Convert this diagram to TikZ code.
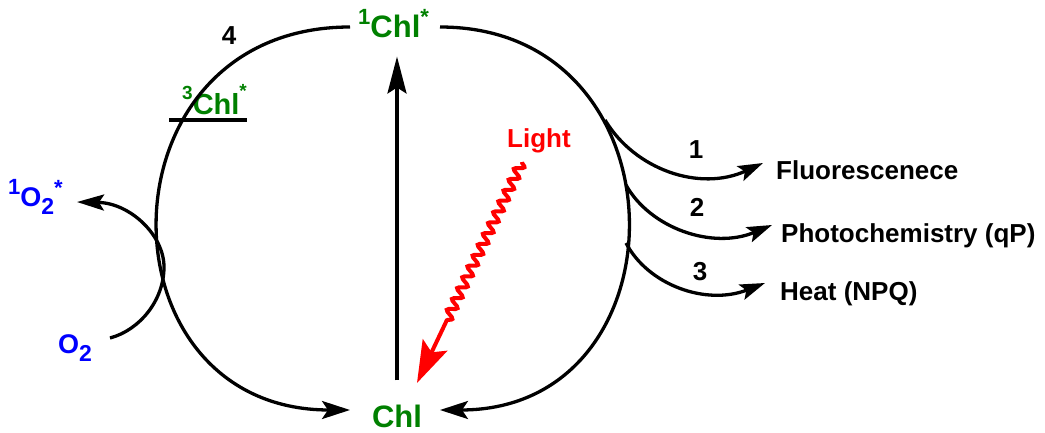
\documentclass[tikz,border=0pt]{standalone}
\usepackage{fontspec}
\setmainfont{Liberation Sans}
\usetikzlibrary{arrows.meta,decorations.pathmorphing}
\definecolor{chlgreen}{RGB}{0,128,0}
\definecolor{oxblue}{RGB}{0,0,255}
\definecolor{lightred}{RGB}{255,0,0}
\newcommand\fsz[1]{\fontsize{#1}{#1}\selectfont}
\newcommand\raisedtxt[3]{\raisebox{#1}{\fsz{#2}#3}}
\begin{document}
\begin{tikzpicture}[x=1pt,y=-1pt,
  lbl/.style={inner sep=0pt, font={\bfseries\fsz{26}}},
  chlg/.style={inner sep=0pt, text=chlgreen, font={\bfseries\fsz{31}}},
  chlsmall/.style={inner sep=0pt, text=chlgreen, font={\bfseries\fsz{29}}},
  oxy/.style={inner sep=0pt, text=oxblue, font={\bfseries\fsz{27}}},
  lighttxt/.style={inner sep=0pt, text=lightred, font={\bfseries\fsz{26}}},
  conn/.style={line width=3.3pt},
  tipA/.style={-{Stealth[length=28pt,width=18pt,inset=6pt]}},
  tipV/.style={-{Stealth[length=37pt,width=19pt,inset=6pt]}},
  tipB/.style={-{Stealth[length=25pt,width=16pt,inset=5pt]}},
  tipO/.style={-{Stealth[length=27pt,width=16pt,inset=5pt]}},
  tipR/.style={-{Stealth[length=42pt,width=27pt,inset=8pt]}}
]
\useasboundingbox (0,0) rectangle (1045,433);

% labels
\node[chlg, anchor=base west] (top) at (358,38)
  {\raisedtxt{13pt}{22}{1}Chl\raisedtxt{13pt}{22}{*}};
\node[chlg, anchor=base] (chl) at (397,427) {Chl};
\node[chlsmall, anchor=base west] (t3) at (182,115)
  {\raisedtxt{15pt}{19}{3}Chl\raisedtxt{17pt}{19}{*}};
\node[lbl] (n4) at (229,36) {4};
\node[oxy, anchor=base west] (o2s) at (8,207)
  {\raisedtxt{12pt}{22}{1}O\raisedtxt{-8pt}{23}{2}\raisedtxt{11pt}{22}{*}};
\node[oxy, anchor=base west] (o2) at (58,353) {O\raisedtxt{-8pt}{23}{2}};
\node[lighttxt, anchor=base west] (light) at (507,148) {Light};
\node[lbl] (n1) at (696,150) {1};
\node[lbl] (n2) at (697,207) {2};
\node[lbl] (n3) at (700,272) {3};
\node[lbl, anchor=base west] (fl) at (776,180) {Fluorescenece};
\node[lbl, anchor=base west] (ph) at (781,243) {Photochemistry (qP)};
\node[lbl, anchor=base west] (ht) at (780,300) {Heat (NPQ)};

% end points
\coordinate (tl) at (350,27);
\coordinate (tr) at (440,27);
\coordinate (bl) at (350,410);
\coordinate (br) at (440,410);
\coordinate (ws) at (522,162);
\coordinate (lt) at (417,383);
\coordinate (b1s) at (605,120);
\coordinate (b1e) at (763,163);
\coordinate (b2s) at (626,185);
\coordinate (b2e) at (772,225);
\coordinate (b3s) at (626,243);
\coordinate (b3e) at (765,283);
\coordinate (os) at (110,338);
\coordinate (om) at (164,267);
\coordinate (oe) at (77,202);

% main cycle
\draw[conn, tipA] (tl) .. controls (95,27) and (95,410) .. (bl);
\draw[conn, tipA] (tr) .. controls (689,27) and (689,410) .. (br);

% triplet level bar
\draw[line width=4pt] (169,120) -- (247,120);

% excitation
\draw[conn, tipV, shorten <=24pt, shorten >=18pt] (chl.north) -- (chl.north |- top.south);

% light
\draw[lightred, line width=4pt, tipR, decorate,
  decoration={snake, amplitude=4.5pt, segment length=12pt, post length=64pt}] (ws) -- (lt);

% de-excitation branches
\draw[conn, tipB] (b1s) .. controls (635,170) and (700,192) .. (b1e);
\draw[conn, tipB] (b2s) .. controls (650,228) and (712,250) .. (b2e);
\draw[conn, tipB] (b3s) .. controls (648,285) and (706,306) .. (b3e);

% singlet oxygen
\draw[conn, tipO] (os) .. controls (140,330) and (164,300) .. (om)
  .. controls (164,235) and (130,203) .. (oe);
\end{tikzpicture}
\end{document}
